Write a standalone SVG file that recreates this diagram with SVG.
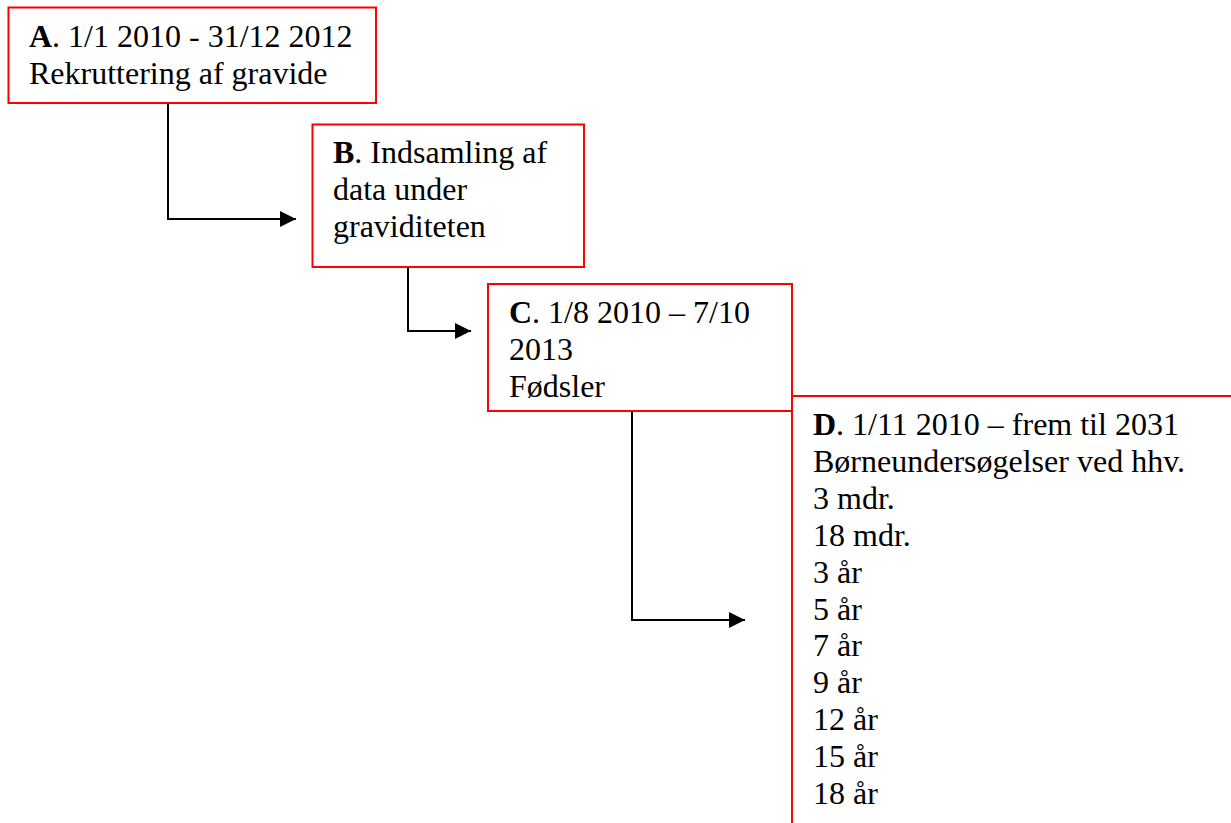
<svg xmlns="http://www.w3.org/2000/svg" width="1231" height="823" viewBox="0 0 1231 823">
<style>
.box{fill:#ffffff;stroke:#ff0000;stroke-width:2}
.t{font-family:"Liberation Serif","Times New Roman",serif;font-size:32px;fill:#000000}
.b{font-weight:bold}
.c{fill:none;stroke:#000000;stroke-width:2}
</style>
<defs>
<marker id="arr" viewBox="0 0 16 16" refX="16" refY="8" markerWidth="16" markerHeight="16" markerUnits="userSpaceOnUse" orient="auto">
<path d="M0,0 L16,8 L0,16 Z" fill="#000000"/>
</marker>
</defs>
<rect width="1231" height="823" fill="#ffffff"/>
<g id="connectors">
<path class="c" d="M168,103 V219 H296" marker-end="url(#arr)"/>
<path class="c" d="M408,267 V331 H471" marker-end="url(#arr)"/>
<path class="c" d="M632,411 V620 H745" marker-end="url(#arr)"/>
</g>
<g id="nodeA">
<rect class="box" x="8.5" y="7.5" width="367.5" height="95.5"/>
<text class="t" x="29" y="47"><tspan class="b">A</tspan>. 1/1 2010 - 31/12 2012</text>
<text class="t" x="29" y="84">Rekruttering af gravide</text>
</g>
<g id="nodeB">
<rect class="box" x="312.5" y="124.5" width="271.5" height="142.5"/>
<text class="t" x="333" y="163"><tspan class="b">B</tspan>. Indsamling af</text>
<text class="t" x="333" y="200">data under</text>
<text class="t" x="333" y="237">graviditeten</text>
</g>
<g id="nodeC">
<rect class="box" x="488" y="284" width="304" height="127"/>
<text class="t" x="509" y="323"><tspan class="b">C</tspan>. 1/8 2010 – 7/10</text>
<text class="t" x="509" y="360">2013</text>
<text class="t" x="509" y="397">Fødsler</text>
</g>
<g id="nodeD">
<rect class="box" x="792" y="396" width="460" height="450"/>
<text class="t" x="813" y="435"><tspan class="b">D</tspan>. 1/11 2010 – frem til 2031</text>
<text class="t" x="813" y="472">Børneundersøgelser ved hhv.</text>
<text class="t" x="813" y="509">3 mdr.</text>
<text class="t" x="813" y="546">18 mdr.</text>
<text class="t" x="813" y="583">3 år</text>
<text class="t" x="813" y="620">5 år</text>
<text class="t" x="813" y="656">7 år</text>
<text class="t" x="813" y="693">9 år</text>
<text class="t" x="813" y="730">12 år</text>
<text class="t" x="813" y="767">15 år</text>
<text class="t" x="813" y="804">18 år</text>
</g>
</svg>
